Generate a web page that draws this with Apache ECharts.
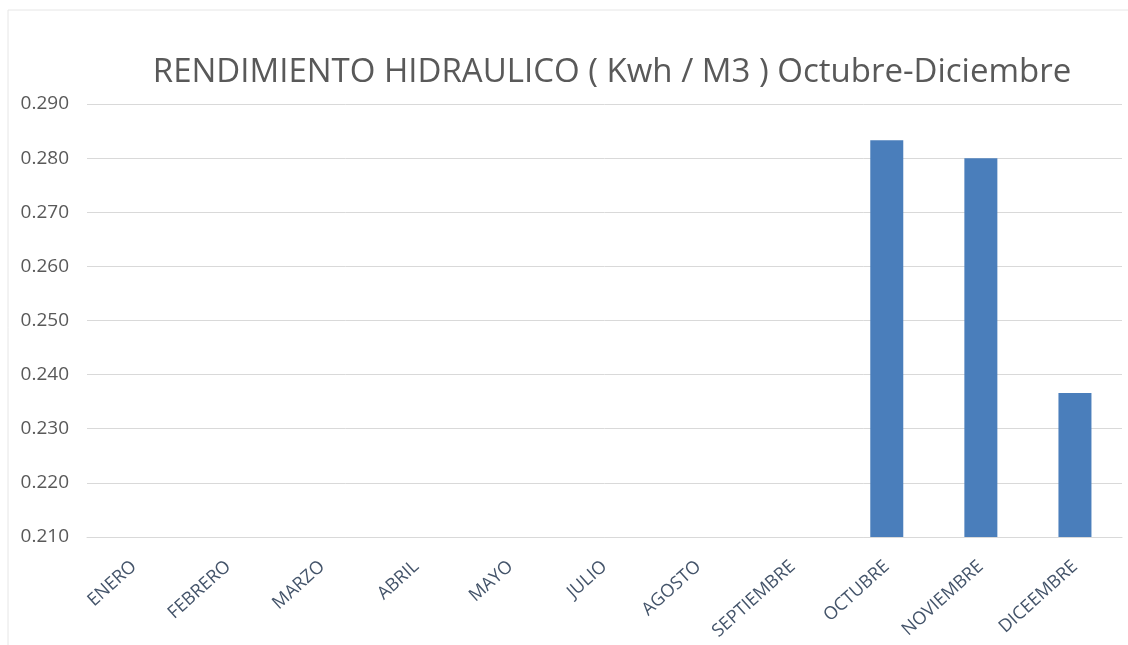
<!DOCTYPE html>
<html>
<head>
    <meta charset="utf-8">
    <title>Rendimiento hidraulico</title>
    <script src="https://cdn.jsdelivr.net/npm/echarts@6/dist/echarts.min.js"></script>
    <style>
        html, body {margin: 0; padding: 0; background: #fff;}
        #main {width: 1128px; height: 645px;}
    </style>
</head>
<body>
<div id="main"></div>
<script type="text/javascript">
    // meses (no hay JUNIO en el original, y DICEEMBRE va asi)
    var meses = ['ENERO', 'FEBRERO', 'MARZO', 'ABRIL', 'MAYO', 'JULIO', 'AGOSTO',
        'SEPTIEMBRE', 'OCTUBRE', 'NOVIEMBRE', 'DICEEMBRE'];
    // Kwh / M3, solo oct-dic tienen dato
    var rendimiento = [null, null, null, null, null, null, null, null, 0.2833, 0.2800, 0.2366];
    var ejeMin = 0.21;
    var ejeMax = 0.29;
    var paso = 0.01;

    var myChart = echarts.init(document.getElementById('main'));
    var option = {
        backgroundColor: '#ffffff',
        animation: false,
        title: {
            text: 'RENDIMIENTO HIDRAULICO ( Kwh / M3 ) Octubre-Diciembre',
            left: 607,
            textAlign: 'center',
            top: 51,
            textStyle: {
                fontFamily: 'Open Sans',
                fontSize: 33,
                fontWeight: 'normal',
                color: '#595959'
            }
        },
        graphic: [{
            type: 'polyline',
            shape: {points: [[8, 645], [8, 10], [1128, 10]]},
            style: {stroke: '#e6e6e6', lineWidth: 1, fill: null},
            silent: true
        }],
        grid: {
            left: 87,
            right: 6,
            top: 104,
            bottom: 108,
            containLabel: false
        },
        xAxis: {
            type: 'category',
            data: meses,
            axisLine: {show: true, lineStyle: {color: '#d9d9d9'}},
            axisTick: {show: false},
            axisLabel: {
                rotate: 42,
                interval: 0,
                margin: 27,
                fontFamily: 'Open Sans',
                fontSize: 18,
                color: '#44546a'
            }
        },
        yAxis: {
            type: 'value',
            min: ejeMin,
            max: ejeMax,
            interval: paso,
            axisLine: {show: false},
            axisTick: {show: false},
            splitLine: {lineStyle: {color: '#d9d9d9'}},
            axisLabel: {
                margin: 18,
                fontFamily: 'Open Sans',
                fontSize: 19,
                color: '#595959',
                formatter: function (v) { return v.toFixed(3); }
            }
        },
        series: [{
            name: 'Rendimiento',
            type: 'bar',
            data: rendimiento,
            barWidth: 33,
            itemStyle: {color: '#4a7ebb'}
        }]
    };
    myChart.setOption(option);
</script>
</body>
</html>
